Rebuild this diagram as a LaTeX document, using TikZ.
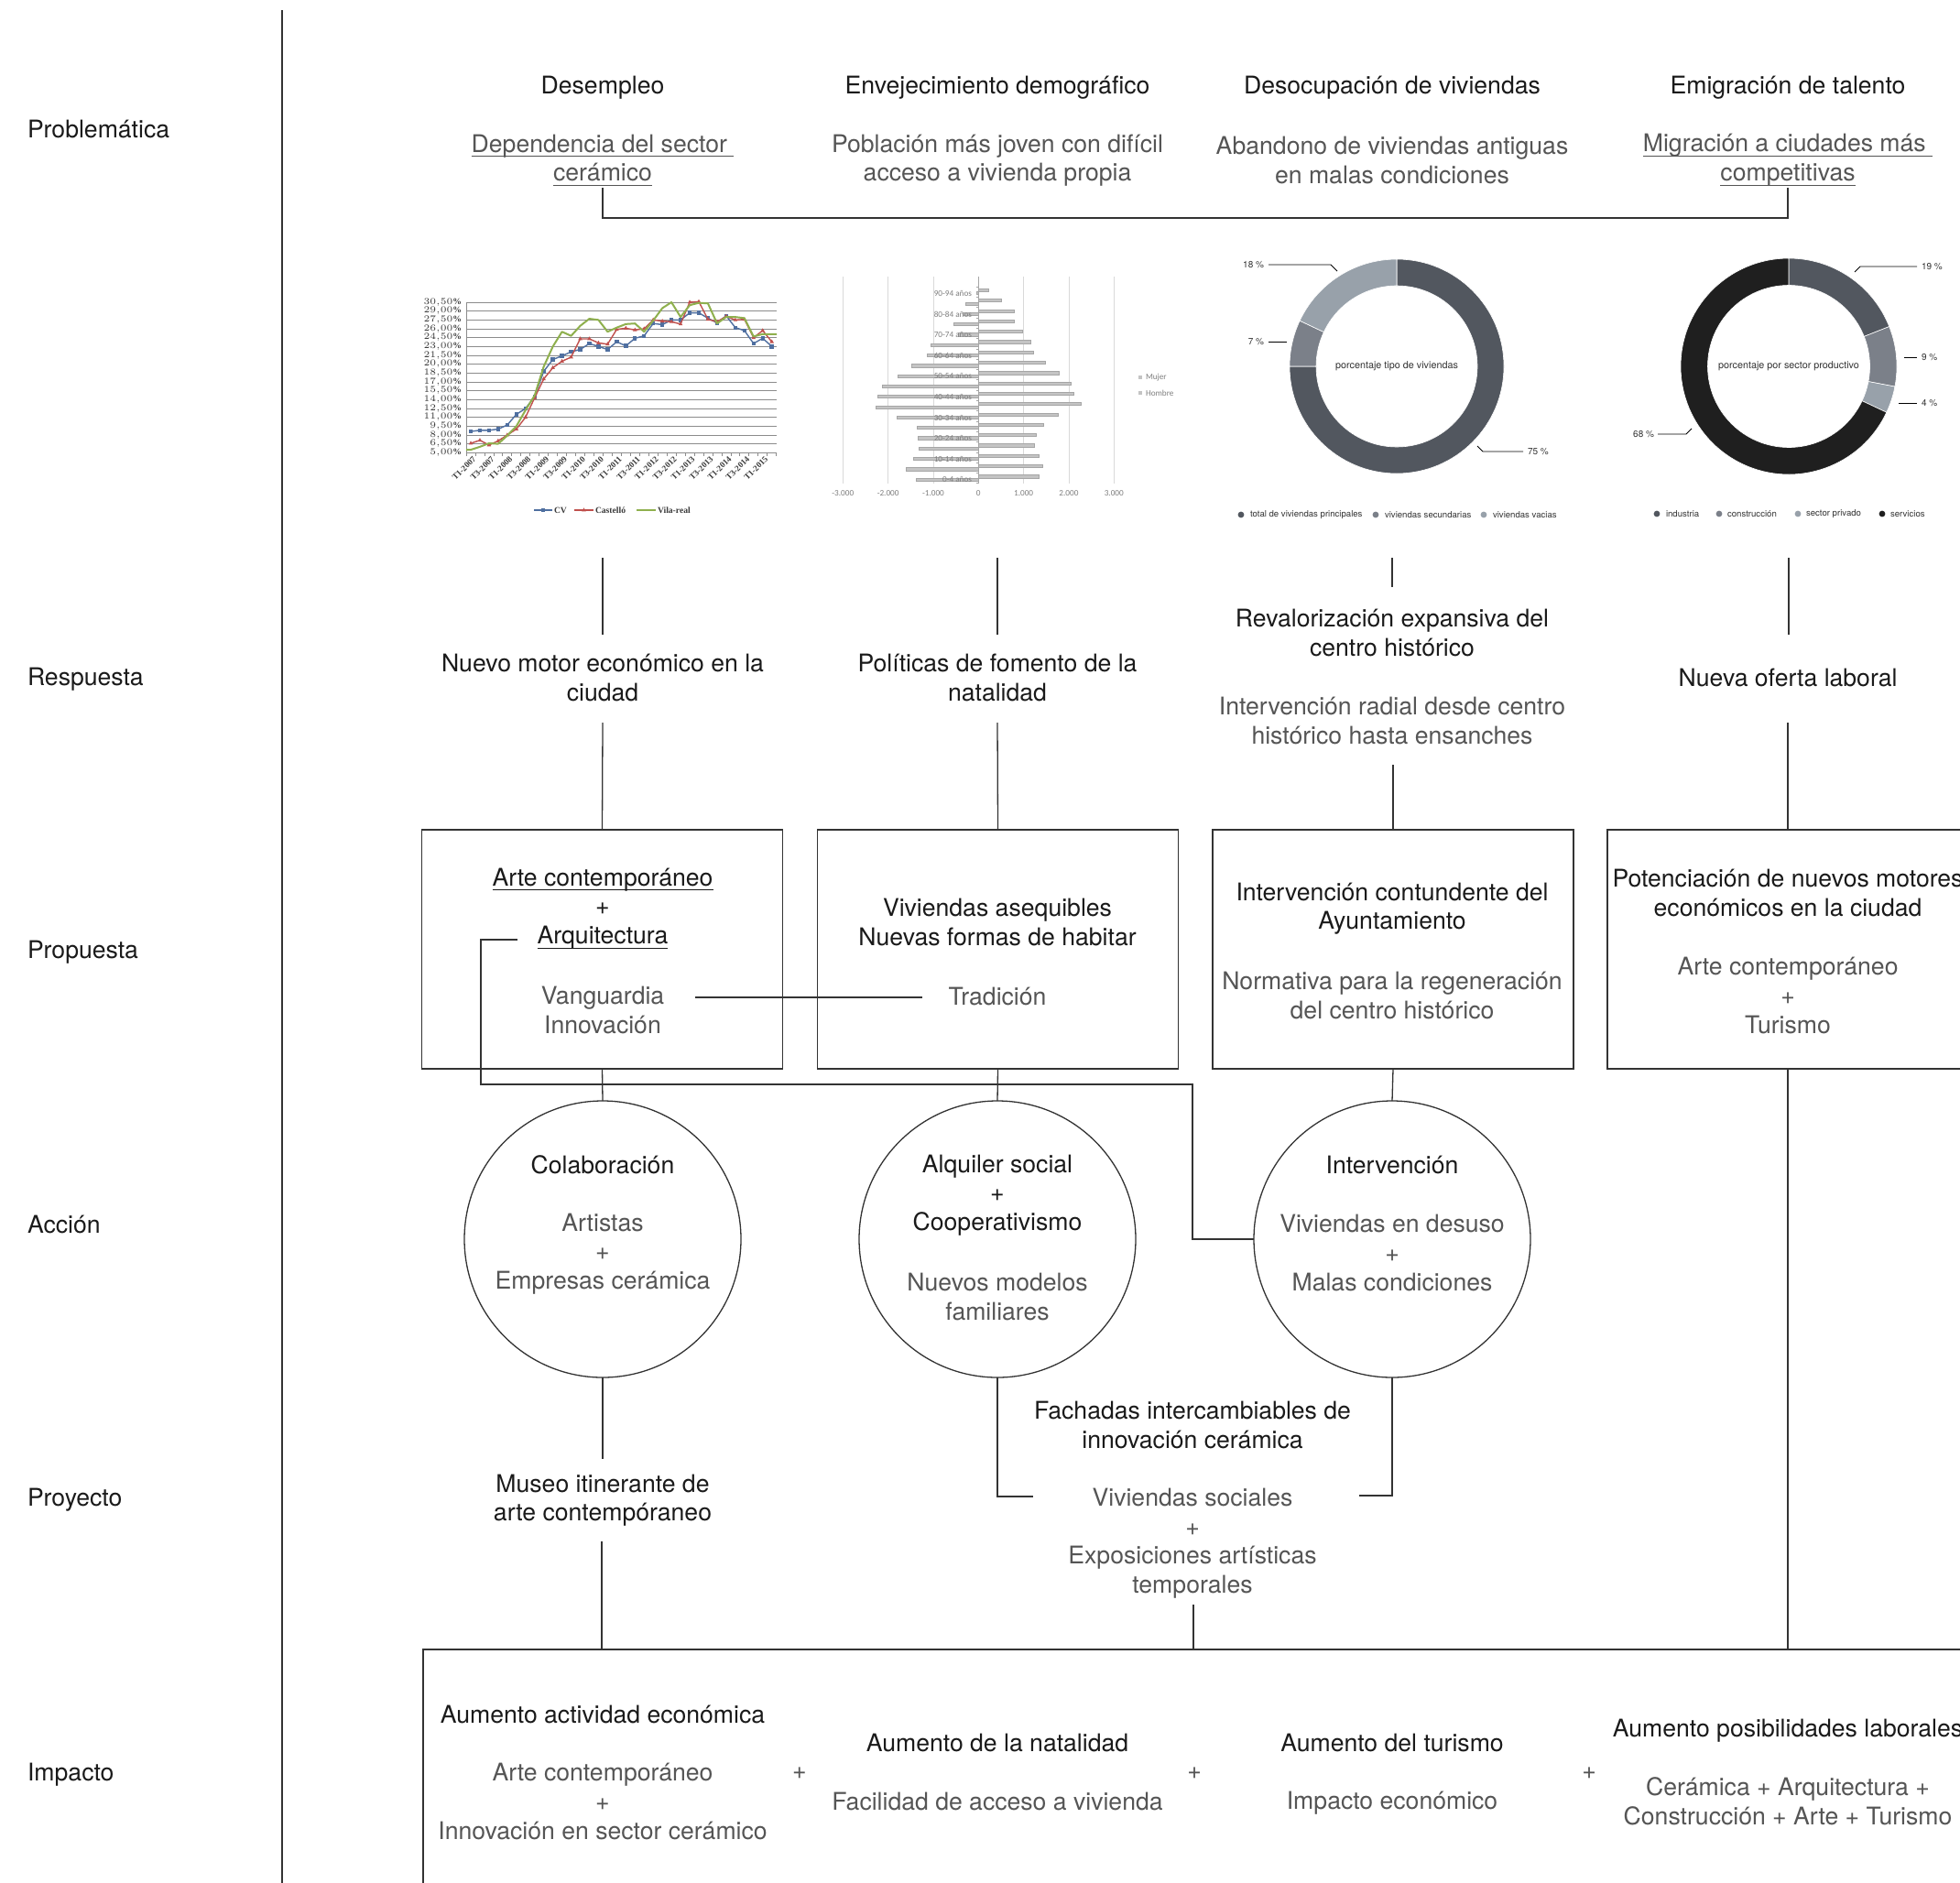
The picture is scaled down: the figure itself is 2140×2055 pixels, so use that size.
\documentclass[tikz,border=0pt]{standalone}
\usepackage{fontspec}
\setmainfont{TeX Gyre Heros}
\newfontfamily\chserif{Liberation Serif}
\newfontfamily\chcal{Carlito}
\usetikzlibrary{calc}
\definecolor{txtd}{HTML}{1A1A1A}
\definecolor{txtg}{HTML}{555555}
\definecolor{linec}{HTML}{333333}
\definecolor{gridc}{HTML}{8C8C8C}
\definecolor{chtxt}{HTML}{3A3A3A}
\definecolor{cvc}{HTML}{4F6FA0}
\definecolor{csc}{HTML}{C0504D}
\definecolor{vrc}{HTML}{8FB04E}
\definecolor{pytxt}{HTML}{7F7F7F}
\definecolor{pgridc}{HTML}{D9D9D9}
\definecolor{barf}{HTML}{C4C4C4}
\definecolor{bard}{HTML}{A6A6A6}
\definecolor{dtxt}{HTML}{333333}
\definecolor{dslate}{HTML}{52575F}
\definecolor{dmid}{HTML}{7B8089}
\definecolor{dlight}{HTML}{98A1AA}
\definecolor{dblack}{HTML}{1F1F1F}
\newcommand{\mainsz}{\fontsize{13.3}{15.8}\selectfont}
\newcommand{\myul}[1]{\setbox0=\hbox{#1}\rlap{\rule[-2.6pt]{\wd0}{0.55pt}}\box0}
\newcommand{\donutseg}[5]{\fill[#1,draw=white,line width=0.3pt] (#2:#4) arc[start angle=#2,end angle=#3,radius=#4] -- (#3:#5) arc[start angle=#3,end angle=#2,radius=#5] -- cycle;}
\def\dataCV{{8.6,8.8,8.8,9.0,9.7,11.5,12.5,14.5,18.8,20.8,21.4,22.1,22.5,23.5,23.0,22.5,23.8,23.1,24.4,24.8,26.9,26.7,27.5,27.5,28.7,28.7,27.8,27.0,28.2,26.2,25.7,23.5,24.4,23.0}}
\def\dataCS{{6.6,7.1,6.3,7.0,8.0,9.0,11.0,14.3,17.5,19.4,20.5,21.2,24.3,24.3,23.6,23.4,25.9,26.1,25.8,26.0,27.5,27.3,27.2,26.8,30.5,30.6,27.6,27.2,28.1,27.5,27.6,24.5,25.7,23.8}}
\def\dataVR{{5.5,6.0,6.6,6.5,7.9,9.5,12.2,14.7,19.6,23.0,25.5,24.8,26.5,27.7,27.5,25.5,26.2,26.8,26.9,25.5,27.4,29.5,30.5,28.0,30.0,30.4,30.3,26.9,28.0,28.0,27.8,24.7,25.1,25.1}}
\def\dataPR{{0.22,0.50,0.78,0.78,0.97,1.16,1.22,1.48,1.78,2.04,2.11,2.27,1.76,1.44,1.27,1.24,1.34,1.41,1.34}}
\def\dataPL{{0.05,0.29,0.35,0.55,0.45,1.05,1.13,1.49,1.78,2.14,2.24,2.28,1.80,1.37,1.34,1.33,1.45,1.61,1.39}}
\begin{document}
\begin{tikzpicture}[x=0.5pt,y=-0.5pt,
  every node/.style={inner sep=0pt,outer sep=0pt},
  hd/.style={align=center,text=txtd,font=\mainsz},
  sb/.style={align=center,text=txtg,font=\mainsz},
  side/.style={anchor=west,text=txtd,font=\mainsz},
  ln/.style={draw=linec,line width=0.65pt},
  boxst/.style={draw=linec,line width=0.65pt,minimum width=197pt,minimum height=130.5pt},
  circst/.style={circle,draw=linec,line width=0.65pt,minimum size=151pt},
  gridl/.style={draw=gridc,line width=0.35pt},
  cyl/.style={font=\chserif\bfseries\fontsize{4.8}{5}\selectfont,text=chtxt,anchor=east},
  cxl/.style={font=\chserif\bfseries\fontsize{4.6}{5}\selectfont,text=chtxt,anchor=east,rotate=45},
  clg/.style={font=\chserif\bfseries\fontsize{4.8}{5}\selectfont,text=chtxt,anchor=west},
  pyl/.style={font=\chcal\fontsize{4.6}{5}\selectfont,text=pytxt},
  pbar/.style={fill=barf,draw=bard,line width=0.2pt},
  pct/.style={font=\fontsize{5}{6}\selectfont,text=dtxt},
  dct/.style={font=\fontsize{5.4}{6}\selectfont,text=dtxt},
  dlg/.style={font=\fontsize{4.8}{6}\selectfont,text=dtxt,anchor=west},
  lead/.style={draw=black,line width=0.4pt}]
\useasboundingbox (0,0) rectangle (2140,2055);
\clip (0,0) rectangle (2140,2055);
\fill[white] (0,0) rectangle (2140,2055);

% ---------- left column ----------
\coordinate (vtop) at (308,11);
\coordinate (vbot) at (308,2060);
\draw[ln] (vtop) -- (vbot);
\node[side] (lprob) at (30,141) {Problemática};
\node[side] (lresp) at (30,742) {Respuesta};
\node[side] (lprop) at (30,1040) {Propuesta};
\node[side] (lacc)  at (30,1337) {Acción};
\node[side] (lproy) at (30,1638) {Proyecto};
\node[side] (limp)  at (30,1938) {Impacto};

% ---------- Problemática ----------
\node[hd] (p1a) at (658,96) {Desempleo};
\node[hd] (p2a) at (1089,96) {Envejecimiento demográfico};
\node[hd] (p3a) at (1520,96) {Desocupación de viviendas};
\node[hd] (p4a) at (1952,96) {Emigración de talento};
\node[sb] (p1b) at (658,175) {\myul{Dependencia del sector\ }\\\myul{cerámico}};
\node[sb] (p2b) at (1089,175) {Población más joven con difícil\\acceso a vivienda propia};
\node[sb] (p3b) at (1520,175) {Abandono de viviendas antiguas\\en malas condiciones};
\node[sb] (p4b) at (1952,175) {\myul{Migración a ciudades más\ }\\\myul{competitivas}};
\coordinate (pA) at (658,205);
\coordinate (pB) at (1952,205);
\draw[ln] (pA) -- ++(0,33) -| (pB);

% ---------- Chart 1: line chart ----------
\foreach \k in {0,...,17} {
  \draw[gridl] (509,{494.3-1.5*\k*6.443}) -- (848,{494.3-1.5*\k*6.443});
  \pgfmathsetmacro{\yv}{5+1.5*\k}
  \node[cyl] (cy\k) at (504,{494.3-1.5*\k*6.443}) {\pgfmathprintnumber[fixed,fixed zerofill,precision=2,use comma]{\yv}\%};
}
\draw[draw=gridc,line width=0.5pt] (509,330) -- (509,494.3);
\foreach \i in {0,...,34} \draw[draw=gridc,line width=0.35pt] ({509+9.96*\i},494.3) -- ({509+9.96*\i},497.5);
\foreach \lab [count=\j from 0] in {T1-2007,T3-2007,T1-2008,T3-2008,T1-2009,T3-2009,T1-2010,T3-2010,T1-2011,T3-2011,T1-2012,T3-2012,T1-2013,T3-2013,T1-2014,T3-2014,T1-2015}
  \node[cxl] (cx\j) at ({514+19.92*\j+4},500) {\lab};
\draw[cvc,line width=0.7pt,line join=round] (514,{494.3-(8.6-5)*6.443}) \foreach \i in {1,...,33}{ -- ({514+9.96*\i},{494.3-(\dataCV[\i]-5)*6.443}) };
\foreach \i in {0,...,33} \fill[cvc] ({514+9.96*\i},{494.3-(\dataCV[\i]-5)*6.443}) ++(-2.2,-2.2) rectangle ++(4.4,4.4);
\draw[csc,line width=0.7pt,line join=round] (514,{494.3-(6.6-5)*6.443}) \foreach \i in {1,...,33}{ -- ({514+9.96*\i},{494.3-(\dataCS[\i]-5)*6.443}) };
\foreach \i in {0,...,33} \fill[csc] ({514+9.96*\i},{494.3-(\dataCS[\i]-5)*6.443}) ++(0,-2.6) -- ++(2.3,4) -- ++(-4.6,0) -- cycle;
\draw[vrc,line width=1pt,line join=round] (509,{494.3-(5.5-5)*6.443}) \foreach \i in {0,...,33}{ -- ({514+9.96*\i},{494.3-(\dataVR[\i]-5)*6.443}) } -- (848,{494.3-(25.1-5)*6.443});
% legend
\draw[cvc,line width=0.7pt] (583,557) -- (603,557);
\fill[cvc] (591,555) rectangle (595,559);
\node[clg] (lgcv) at (605,557) {CV};
\draw[csc,line width=0.7pt] (627,557) -- (648,557);
\fill[csc] (637.5,554.4) -- ++(2.3,4) -- ++(-4.6,0) -- cycle;
\node[clg] (lgcs) at (650,557) {Castelló};
\draw[vrc,line width=1pt] (695,557) -- (716,557);
\node[clg] (lgvr) at (718,557) {Vila-real};

% ---------- Chart 2: population pyramid ----------
\foreach \g/\t in {-3/-3.000,-2/-2.000,-1/-1.000,0/0,1/1.000,2/2.000,3/3.000} {
  \draw[draw=pgridc,line width=0.4pt] ({1068.3+49.33*\g},302) -- ({1068.3+49.33*\g},528);
  \node[pyl] (px\g) at ({1068.3+49.33*\g},539) {\t};
}
\foreach \i in {0,...,18} {
  \filldraw[pbar] (1068.3,{316.7+11.3*\i-1.6}) rectangle ({1068.3+49.33*\dataPR[\i]},{316.7+11.3*\i+1.6});
  \filldraw[pbar] (1068.3,{320+11.3*\i-1.6}) rectangle ({1068.3-49.33*\dataPL[\i]},{320+11.3*\i+1.6});
}
\draw[draw=bard,line width=0.4pt] (1068.3,302) -- (1068.3,528);
\foreach \i in {0,...,19} \draw[draw=bard,line width=0.3pt] (1065.5,{313+11.3*\i}) -- (1068.3,{313+11.3*\i});
\foreach \lab [count=\j from 0] in {90-94 años,80-84 años,70-74 años,60-64 años,50-54 años,40-44 años,30-34 años,20-24 años,10-14 años,0-4 años}
  \node[pyl,anchor=east] (pa\j) at (1061,{320.5+22.6*\j}) {\lab};
\fill[barf] (1243,410) rectangle (1247,414);
\node[pyl,anchor=west] (pmuj) at (1251,412) {Mujer};
\fill[barf] (1243,427) rectangle (1247,431);
\node[pyl,anchor=west] (phom) at (1251,429) {Hombre};

% ---------- Chart 3: donut viviendas ----------
\begin{scope}[shift={(1525,400)},yscale=-1]
  \donutseg{dslate}{90}{-180}{117}{88}
  \donutseg{dmid}{-180}{-205.2}{117}{88}
  \donutseg{dlight}{-205.2}{-270}{117}{88}
\end{scope}
\node[dct] (d1c) at (1525,400) {porcentaje tipo de viviendas};
\node[pct,anchor=east] (d1p18) at (1380,289) {18 \%};
\draw[lead] (1385,289) -- (1453,289) -- (1460,296);
\node[pct,anchor=east] (d1p7) at (1380,373) {7 \%};
\draw[lead] (1385,373) -- (1405,373);
\node[pct,anchor=west] (d1p75) at (1668,493) {75 \%};
\draw[lead] (1613,487) -- (1619,493) -- (1663,493);
\fill[dslate] (1355,562) circle[radius=3.4];
\node[dlg] (d1l1) at (1365,562) {total de viviendas principales};
\fill[dmid] (1502,562) circle[radius=3.4];
\node[dlg] (d1l2) at (1512,562) {viviendas secundarias};
\fill[dlight] (1620,562) circle[radius=3.4];
\node[dlg] (d1l3) at (1630,562) {viviendas vacias};

% ---------- Chart 4: donut sectores ----------
\begin{scope}[shift={(1953,400)},yscale=-1]
  \donutseg{dslate}{90}{21.6}{118}{88.5}
  \donutseg{dmid}{21.6}{-10.8}{118}{88.5}
  \donutseg{dlight}{-10.8}{-25.2}{118}{88.5}
  \donutseg{dblack}{-25.2}{-270}{118}{88.5}
\end{scope}
\node[dct] (d2c) at (1953,400) {porcentaje por sector productivo};
\node[pct,anchor=west] (d2p19) at (2098,291) {19 \%};
\draw[lead] (2025,297) -- (2031,291) -- (2093,291);
\node[pct,anchor=west] (d2p9) at (2098,390) {9 \%};
\draw[lead] (2079,390) -- (2093,390);
\node[pct,anchor=west] (d2p4) at (2098,440) {4 \%};
\draw[lead] (2073,440) -- (2093,440);
\node[pct,anchor=east] (d2p68) at (1806,474) {68 \%};
\draw[lead] (1810,474) -- (1841,474) -- (1847,468);
\fill[dslate] (1809,561) circle[radius=3.4];
\node[dlg] (d2l1) at (1819,561) {industria};
\fill[dmid] (1877,561) circle[radius=3.4];
\node[dlg] (d2l2) at (1886,561) {construcción};
\fill[dlight] (1963,561) circle[radius=3.4];
\node[dlg] (d2l3) at (1972,561) {sector privado};
\fill[dblack] (2055,561) circle[radius=3.4];
\node[dlg] (d2l4) at (2064,561) {servicios};

% ---------- chart -> respuesta connectors ----------
\coordinate (ch1) at (658,609);  \coordinate (rt1) at (658,693);
\coordinate (ch2) at (1089,609); \coordinate (rt2) at (1089,693);
\coordinate (ch3) at (1520,609); \coordinate (rt3) at (1520,641);
\coordinate (ch4) at (1953,609); \coordinate (rt4) at (1953,693);
\draw[ln] (ch1) -- (rt1);
\draw[ln] (ch2) -- (rt2);
\draw[ln] (ch3) -- (rt3);
\draw[ln] (ch4) -- (rt4);

% ---------- Respuesta ----------
\node[hd] (r1) at (658,740) {Nuevo motor económico en la\\ciudad};
\node[hd] (r2) at (1089,740) {Políticas de fomento de la\\natalidad};
\node[hd] (r3a) at (1520,691) {Revalorización expansiva del\\centro histórico};
\node[sb] (r3b) at (1520,787) {Intervención radial desde centro\\histórico hasta ensanches};
\node[hd] (r4) at (1952,740) {Nueva oferta laboral};
\coordinate (rb1) at (658,789);
\coordinate (rb2) at (1089,789);
\coordinate (rb3) at (1521,835);
\coordinate (rb4) at (1952,789);

% ---------- Propuesta ----------
\node[boxst] (box1) at (657.5,1036.5) {};
\node[boxst] (box2) at (1089.5,1036.5) {};
\node[boxst] (box3) at (1521,1036.5) {};
\node[boxst] (box4) at (1952,1036.5) {};
\draw[ln] (rb1) -- (box1.north);
\draw[ln] (rb2) -- (box2.north);
\draw[ln] (rb3) -- (box3.north);
\draw[ln] (rb4) -- (box4.north);
\node[hd] (b1a) at (658,992) {\myul{Arte contemporáneo}\\+\\\myul{Arquitectura}};
\node[sb] (b1b) at (658,1103) {Vanguardia\\Innovación};
\node[hd] (b2a) at (1089,1007) {Viviendas asequibles\\Nuevas formas de habitar};
\node[sb] (b2b) at (1089,1088) {Tradición};
\node[hd] (b3a) at (1520,992) {Intervención contundente del\\Ayuntamiento};
\node[sb] (b3b) at (1520,1087) {Normativa para la regeneración\\del centro histórico};
\node[hd] (b4a) at (1952,975) {Potenciación de nuevos motores\\económicos en la ciudad};
\node[sb] (b4b) at (1952,1087) {Arte contemporáneo\\+\\Turismo};
\coordinate (vgL) at (759,1089);
\coordinate (vgR) at (1007,1089);
\draw[ln] (vgL) -- (vgR);

% ---------- Acción ----------
\node[circst] (c1) at (658,1353) {};
\node[circst] (c2) at (1089,1353) {};
\node[circst] (c3) at (1520,1353) {};
\draw[ln] (box1.south) -- (c1.north);
\draw[ln] (box2.south) -- (c2.north);
\draw[ln] (box3.south) -- (c3.north);
\coordinate (aq) at (565,1026);
\coordinate (aqc) at (525,1184);
\coordinate (aqr) at (1302,1353);
\draw[ln] (aq) -| (aqc) -| (aqr) -- (c3.west);
\node[hd] (c1a) at (658,1272) {Colaboración};
\node[sb] (c1b) at (658,1369) {Artistas\\+\\Empresas cerámica};
\node[hd] (c2a) at (1089,1305) {Alquiler social\\+\\Cooperativismo};
\node[sb] (c2b) at (1089,1416) {Nuevos modelos\\familiares};
\node[hd] (c3a) at (1520,1272) {Intervención};
\node[sb] (c3b) at (1520,1368) {Viviendas en desuso\\+\\Malas condiciones};

% ---------- Proyecto ----------
\node[hd] (m1) at (658,1638) {Museo itinerante de\\arte contempóraneo};
\node[hd] (f1) at (1302,1556) {Fachadas intercambiables de\\innovación cerámica};
\node[sb] (f2) at (1302,1685) {Viviendas sociales\\+\\Exposiciones artísticas\\temporales};
\coordinate (m1t) at (658,1593);
\coordinate (m1b) at (657,1683);
\coordinate (f2l) at (1128,1634);
\coordinate (f2r) at (1484,1633);
\coordinate (f2b) at (1303,1752);
\draw[ln] (c1.south) -- (m1t);
\draw[ln] (c2.south) |- (f2l);
\draw[ln] (c3.south) |- (f2r);

% ---------- Impacto ----------
\coordinate (impBL) at (462,2060);
\coordinate (impTL) at (462,1801);
\coordinate (impTR) at (2145,1801);
\coordinate (i1t) at (657,1801);
\coordinate (i2t) at (1303,1801);
\coordinate (i4t) at (1952,1801);
\draw[ln,line width=0.75pt] (impBL) -- (impTL) -- (impTR);
\draw[ln] (m1b) -- (i1t);
\draw[ln] (f2b) -- (i2t);
\draw[ln] (box4.south) -- (i4t);
\node[hd] (i1a) at (658,1872) {Aumento actividad económica};
\node[sb] (i1b) at (658,1967) {Arte contemporáneo\\+\\Innovación en sector cerámico};
\node[sb] (pl1) at (873,1936) {+};
\node[hd] (i2a) at (1089,1903) {Aumento de la natalidad};
\node[sb] (i2b) at (1089,1967) {Facilidad de acceso a vivienda};
\node[sb] (pl2) at (1304,1936) {+};
\node[hd] (i3a) at (1520,1903) {Aumento del turismo};
\node[sb] (i3b) at (1520,1969) {Impacto económico};
\node[sb] (pl3) at (1735,1936) {+};
\node[hd] (i4a) at (1952,1890) {Aumento posibilidades laborales};
\node[sb] (i4b) at (1952,1967) {Cerámica + Arquitectura +\\Construcción + Arte + Turismo};
\end{tikzpicture}
\end{document}
